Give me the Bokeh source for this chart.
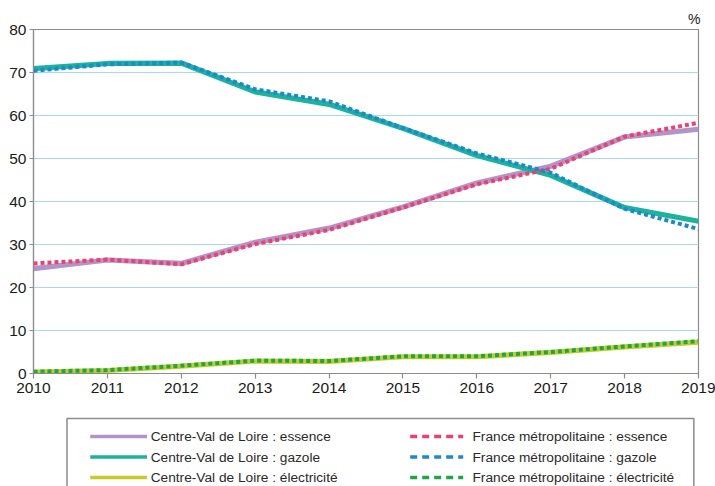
from bokeh.plotting import figure
from bokeh.layouts import column
from bokeh.models import Range1d, FixedTicker
from bokeh.core.properties import value
from bokeh.embed import file_html
from bokeh.resources import INLINE

# ---- data -------------------------------------------------------------
years = [2010, 2011, 2012, 2013, 2014, 2015, 2016, 2017, 2018, 2019]
y_ticks = [0, 10, 20, 30, 40, 50, 60, 70, 80]

cvl_essence = [24.4, 26.4, 25.6, 30.5, 33.8, 38.7, 44.3, 48.2, 55.0, 56.8]
fr_essence = [25.6, 26.5, 25.4, 30.1, 33.4, 38.6, 44.0, 47.6, 55.1, 58.3]
cvl_gazole = [70.9, 72.1, 72.2, 65.5, 62.6, 57.0, 50.7, 46.1, 38.6, 35.4]
fr_gazole = [70.4, 71.9, 72.3, 66.1, 63.3, 57.1, 51.2, 46.7, 38.3, 33.6]
cvl_elec = [0.3, 0.7, 1.7, 2.9, 2.8, 3.9, 3.9, 4.9, 6.2, 7.3]
fr_elec = [0.4, 0.8, 1.8, 3.0, 2.9, 4.0, 4.0, 5.0, 6.3, 7.5]

labels_cvl = [
    "Centre-Val de Loire : essence",
    "Centre-Val de Loire : gazole",
    "Centre-Val de Loire : électricité",
]
labels_fr = [
    "France métropolitaine : essence",
    "France métropolitaine : gazole",
    "France métropolitaine : électricité",
]
unit_label = "%"

# ---- styles -----------------------------------------------------------
C_PURPLE = "#b394c8"
C_PINK = "#ee3f6e"
C_TEAL = "#1cb39b"
C_BLUE = "#1b88d0"
C_OLIVE = "#c6cb2c"
C_GREEN = "#18a84a"
GRAY = "#8c8c8c"
FONT = "Liberation Sans"
W = 715

# thin top band
band = figure(width=W, height=4, output_backend="svg", toolbar_location=None,
              x_axis_type=None, y_axis_type=None, min_border=0)
band.background_fill_color = "#e4ebef"
band.border_fill_color = "#e4ebef"
band.outline_line_color = None
band.grid.visible = False

# main chart
p = figure(width=W, height=401, output_backend="svg", toolbar_location=None,
           x_range=Range1d(2010, 2019), y_range=Range1d(0, 80),
           min_border_left=33, min_border_right=17, min_border_top=25,
           min_border_bottom=32, title=unit_label)
p.background_fill_color = "white"
p.border_fill_color = "white"
p.outline_line_color = GRAY
p.outline_line_width = 1.2

p.title.align = "right"
p.title.text_font = FONT
p.title.text_font_size = "14px"
p.title.text_font_style = "normal"
p.title.text_color = "#1a1a1a"
p.title.standoff = 5
p.title.offset = -2

for ax in (p.xaxis[0], p.yaxis[0]):
    ax.axis_line_color = GRAY
    ax.axis_line_width = 1.2
    ax.major_tick_line_color = GRAY
    ax.major_tick_line_width = 1.2
    ax.major_tick_in = 0
    ax.minor_tick_line_color = None
    ax.major_label_text_font = FONT
    ax.major_label_text_font_size = "15.5px"
    ax.major_label_text_color = "#1a1a1a"

p.xaxis.ticker = FixedTicker(ticks=years)
p.xaxis.major_tick_out = 5
p.xaxis.major_label_standoff = 4
p.yaxis.ticker = FixedTicker(ticks=y_ticks)
p.yaxis.major_tick_out = 4
p.yaxis.major_label_standoff = 3

p.xgrid.grid_line_color = None
p.ygrid.ticker = FixedTicker(ticks=y_ticks)
p.ygrid.grid_line_color = "#a6daf2"
p.ygrid.grid_line_width = 1.2

SOLID_W = 5.2
DOT_W = 4
DOT = "4 3"
p.line(years, cvl_essence, line_color=C_PURPLE, line_width=SOLID_W)
p.line(years, cvl_gazole, line_color=C_TEAL, line_width=SOLID_W)
p.line(years, cvl_elec, line_color=C_OLIVE, line_width=SOLID_W)
p.line(years, fr_essence, line_color=C_PINK, line_width=DOT_W, line_dash=DOT)
p.line(years, fr_gazole, line_color=C_BLUE, line_width=DOT_W, line_dash=DOT)
p.line(years, fr_elec, line_color=C_GREEN, line_width=DOT_W, line_dash=DOT)

# legend panel (pixel coordinates, y downward)
LH = 81
lg = figure(width=W, height=LH, output_backend="svg", toolbar_location=None,
            x_range=Range1d(0, W), y_range=Range1d(LH, 0),
            x_axis_type=None, y_axis_type=None, min_border=0)
lg.outline_line_color = None
lg.grid.visible = False
lg.background_fill_color = "white"
lg.border_fill_color = "white"

# legend frame (open at the bottom, cut by the window)
lg.multi_line(xs=[[36, 36, 710, 710]], ys=[[LH + 10, 13, 13, LH + 10]],
              line_color=GRAY, line_width=1.5)

rows_y = [31, 51.5, 72]
cvl_cols = [C_PURPLE, C_TEAL, C_OLIVE]
fr_cols = [C_PINK, C_BLUE, C_GREEN]
for yy, c in zip(rows_y, cvl_cols):
    lg.line([61, 122], [yy, yy], line_color=c, line_width=3.5)
for yy, c in zip(rows_y, fr_cols):
    lg.line([405, 462], [yy, yy], line_color=c, line_width=3.5,
            line_dash="7 5")
lg.text(x=[126] * 3, y=rows_y, text=labels_cvl, text_font=value(FONT),
        text_font_size="13.7px", text_baseline="middle", text_color="#2a2a2a")
lg.text(x=[472] * 3, y=rows_y, text=labels_fr, text_font=value(FONT),
        text_font_size="13.7px", text_baseline="middle", text_color="#2a2a2a")

layout = column(band, p, lg, spacing=0)
open("out.html", "w").write(file_html(layout, INLINE))
